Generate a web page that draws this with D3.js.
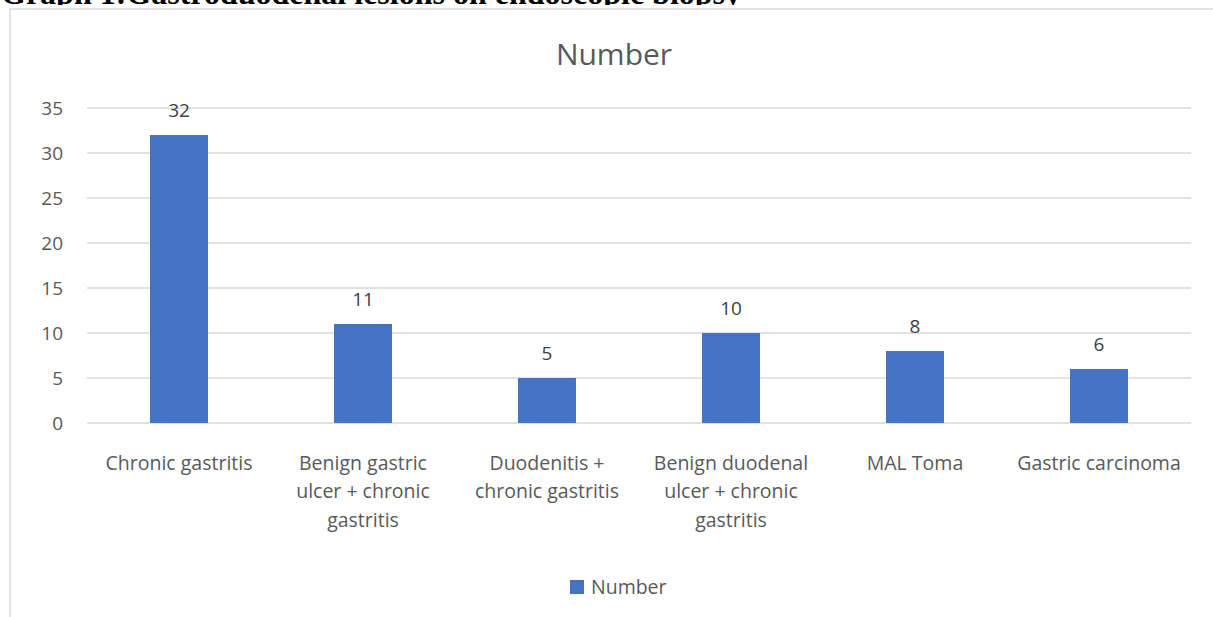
<!DOCTYPE html>
<html>
<head>
<meta charset="utf-8">
<script src="https://cdn.jsdelivr.net/npm/d3@7/dist/d3.min.js"></script>
<style>
  html, body { margin: 0; padding: 0; background: #fff; }
  svg { display: block; }
</style>
</head>
<body>
<div id="chart"></div>
<script>
// chart data
const pageTitle = "Graph 1:Gastroduodenal lesions on endoscopic biopsy";
const chartTitle = "Number";
const seriesName = "Number";
const categories = [
  "Chronic gastritis",
  "Benign gastric ulcer + chronic gastritis",
  "Duodenitis + chronic gastritis",
  "Benign duodenal ulcer + chronic gastritis",
  "MAL Toma",
  "Gastric carcinoma"
];
// how each category label breaks across lines
const categoryLines = [
  ["Chronic gastritis"],
  ["Benign gastric", "ulcer + chronic", "gastritis"],
  ["Duodenitis +", "chronic gastritis"],
  ["Benign duodenal", "ulcer + chronic", "gastritis"],
  ["MAL Toma"],
  ["Gastric carcinoma"]
];
const values = [32, 11, 5, 10, 8, 6];
const yTicks = [0, 5, 10, 15, 20, 25, 30, 35];

(function () {
  const width = 1213, height = 617;
  const font = "'Open Sans', Carlito, Calibri, sans-serif";
  const textColor = "#595959";
  const gridColor = "#d9d9d9";
  const barColor = "#4472c4";

  const svg = d3.select("#chart").append("svg")
    .attr("width", width)
    .attr("height", height);

  // the scan cuts the heading: only a thin strip of it shows
  svg.append("clipPath")
    .attr("id", "headClip")
    .append("rect")
    .attr("x", 0)
    .attr("y", 0)
    .attr("width", width)
    .attr("height", 5);

  svg.append("text")
    .attr("clip-path", "url(#headClip)")
    .attr("x", 1)
    .attr("y", 3.5)
    .attr("font-family", "'Liberation Serif', 'Times New Roman', serif")
    .attr("font-weight", "bold")
    .attr("font-size", 32)
    .attr("fill", "#000")
    .text(pageTitle);

  // chart frame (right / bottom run off the page)
  svg.append("rect")
    .attr("x", 10)
    .attr("y", 9)
    .attr("width", 1240)
    .attr("height", 700)
    .attr("fill", "#fff")
    .attr("stroke", gridColor)
    .attr("stroke-width", 1.5);

  const x = d3.scaleBand()
    .domain(categories)
    .range([87, 1191])
    .paddingInner(0.685)
    .paddingOuter(0.3425);

  const y = d3.scaleLinear()
    .domain([0, 35])
    .range([423, 108]);

  // gridlines
  svg.append("g")
    .selectAll("line")
    .data(yTicks)
    .join("line")
    .attr("x1", 87)
    .attr("x2", 1191)
    .attr("y1", d => y(d))
    .attr("y2", d => y(d))
    .attr("stroke", gridColor)
    .attr("stroke-width", 1.3);

  // y tick labels
  svg.append("g")
    .selectAll("text")
    .data(yTicks)
    .join("text")
    .attr("x", 63)
    .attr("y", d => y(d))
    .attr("dy", "0.35em")
    .attr("text-anchor", "end")
    .attr("font-family", font)
    .attr("font-size", 19)
    .attr("fill", textColor)
    .text(d => d);

  // bars
  svg.append("g")
    .selectAll("rect")
    .data(values)
    .join("rect")
    .attr("x", (d, i) => x(categories[i]))
    .attr("y", d => y(d))
    .attr("width", x.bandwidth())
    .attr("height", d => y(0) - y(d))
    .attr("fill", barColor);

  // data labels
  svg.append("g")
    .selectAll("text")
    .data(values)
    .join("text")
    .attr("x", (d, i) => x(categories[i]) + x.bandwidth() / 2)
    .attr("y", d => y(d) - 18)
    .attr("text-anchor", "middle")
    .attr("font-family", font)
    .attr("font-size", 19)
    .attr("fill", "#404040")
    .text(d => d);

  // category labels
  const catG = svg.append("g")
    .selectAll("text")
    .data(categories)
    .join("text")
    .attr("x", d => x(d) + x.bandwidth() / 2)
    .attr("y", 469.5)
    .attr("text-anchor", "middle")
    .attr("font-family", font)
    .attr("font-size", 19.5)
    .attr("fill", textColor);

  catG.selectAll("tspan")
    .data((d, i) => categoryLines[i].map(t => ({ t, cx: x(d) + x.bandwidth() / 2 })))
    .join("tspan")
    .attr("x", d => d.cx)
    .attr("dy", (d, i) => i === 0 ? 0 : 28.5)
    .text(d => d.t);

  // chart title
  svg.append("text")
    .attr("x", 614)
    .attr("y", 65)
    .attr("text-anchor", "middle")
    .attr("font-family", font)
    .attr("font-size", 30)
    .attr("fill", textColor)
    .text(chartTitle);

  // legend
  const legend = svg.append("g").attr("transform", "translate(570,580)");
  legend.append("rect")
    .attr("width", 14)
    .attr("height", 14)
    .attr("fill", barColor);
  legend.append("text")
    .attr("x", 21)
    .attr("y", 7)
    .attr("dy", "0.35em")
    .attr("font-family", font)
    .attr("font-size", 19.5)
    .attr("fill", textColor)
    .text(seriesName);
})();
</script>
</body>
</html>
